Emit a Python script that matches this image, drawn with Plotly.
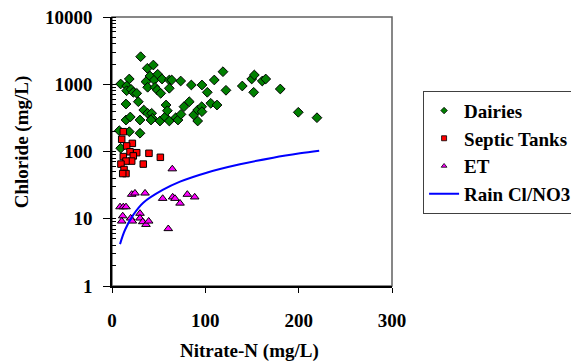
import plotly.graph_objects as go

# Dairies
dairies_x = [30.7, 37.8, 44.3, 9.3, 18.5, 36.4, 40.7, 45.3, 49.0, 53.6, 61.4, 64.0, 73.6,
             38.2, 46.1, 48.5, 52.2, 61.4, 15.7, 15.7, 20.4, 22.8, 26.5, 85.0, 96.4, 102.1,
             109.6, 118.9, 122.1, 139.6, 149.7, 152.5, 151.8, 161.0, 164.7, 180.3, 199.6,
             219.6, 15.0, 28.2, 34.0, 38.2, 42.5, 43.2, 41.8, 15.0, 19.6, 30.0, 51.4, 56.8,
             57.9, 59.3, 61.4, 68.3, 70.7, 73.9, 77.1, 82.8, 87.5, 91.8, 96.1, 96.4, 91.8,
             105.8, 112.5, 7.8, 18.5, 30.0, 9.3]
dairies_y = [2570, 1726, 1932, 1009, 1197, 1091, 1327, 1157, 1406, 1197, 1157, 1157, 1117,
             901, 901, 821, 733, 871, 942, 802, 841, 759, 733, 975, 975, 759,
             1157, 1537, 813, 942, 1197, 1373, 759, 1117, 1197, 850, 383,
             318, 508, 550, 414, 370, 370, 312, 294, 294, 326, 294, 284, 326,
             491, 404, 284, 318, 294, 357, 464, 550, 349, 414, 464, 391, 284,
             521, 491, 204, 197, 187, 112]

# Septic Tanks
septic_x = [12.1, 10.4, 21.8, 15.7, 19.3, 26.5, 22.8, 12.1, 39.6, 51.8, 21.1, 15.0, 9.6,
            33.5, 12.9, 15.0, 11.5]
septic_y = [197, 152, 132, 121, 99, 96, 86, 84, 94, 82, 72, 72, 65, 65, 54, 47, 47]

# ET
et_x = [64.6, 21.1, 24.6, 35.4, 54.3, 65.0, 67.5, 80.7, 88.6, 72.9, 8.6, 12.1, 15.0,
        11.5, 10.4, 20.0, 21.8, 30.0, 30.0, 32.9, 36.4, 39.3, 60.3]
et_y = [55, 23, 24, 24, 20, 21, 20, 23, 21, 17, 15, 15, 15,
        11, 9.2, 10.2, 9.2, 12, 10.2, 9.0, 8.2, 9.2, 7.1]

# Rain Cl/NO3 line
rain_x = [8.6, 13.9, 22.8, 33.5, 54.3, 72.9, 101.4, 137.1, 172.8, 201.4, 222.0]
rain_y = [4.2, 6.8, 11.4, 17.3, 26.8, 35.6, 48.4, 64.5, 80.9, 94.0, 103.0]

x_ticks = [0, 100, 200, 300]
y_ticks = [1, 10, 100, 1000, 10000]

FONT = "Liberation Serif"
FS = 19

fig = go.Figure()
mk_line = dict(color="black", width=1)
fig.add_trace(go.Scatter(x=dairies_x, y=dairies_y, mode="markers", name="Dairies",
                         showlegend=False,
                         marker=dict(symbol="diamond", size=7.5, color="#008000", line=mk_line)))
fig.add_trace(go.Scatter(x=septic_x, y=septic_y, mode="markers", name="Septic Tanks",
                         showlegend=False,
                         marker=dict(symbol="square", size=6.5, color="#ff0000", line=mk_line)))
fig.add_trace(go.Scatter(x=et_x, y=et_y, mode="markers", name="ET",
                         showlegend=False,
                         marker=dict(symbol="triangle-up", size=7.5, color="#ff00ff", line=mk_line)))
fig.add_trace(go.Scatter(x=rain_x, y=rain_y, mode="lines", name="Rain Cl/NO3",
                         showlegend=False,
                         line=dict(color="#0000ff", width=2, shape="spline")))

# legend entries with small symbols, as in the reference legend
leg = [("Dairies", "diamond", "#008000", 5), ("Septic Tanks", "square", "#ff0000", 5),
       ("ET", "triangle-up", "#ff00ff", 5)]
for i, (nm, sym, col, sz) in enumerate(leg):
    fig.add_trace(go.Scatter(x=[None], y=[None], mode="markers", name="<b>%s</b>" % nm,
                             legendgroup=str(i),
                             marker=dict(symbol=sym, size=sz, color=col,
                                         line=dict(color="black", width=0.8))))
fig.add_trace(go.Scatter(x=[None], y=[None], mode="lines", name="<b>Rain Cl/NO3</b>",
                         legendgroup="3", line=dict(color="#0000ff", width=2)))

# plot-area frame (top/right)
fig.add_shape(type="rect", xref="paper", yref="paper", x0=0, y0=0, x1=1, y1=1,
              line=dict(color="#606060", width=1.5), layer="below")

# axis titles
fig.add_annotation(xref="paper", yref="paper", x=0.491, y=-0.2416, xanchor="center",
                   yanchor="middle", showarrow=False, text="<b>Nitrate-N (mg/L)</b>",
                   font=dict(family=FONT, size=FS, color="black"))
fig.add_annotation(xref="paper", yref="paper", x=-0.321, y=0.535, xanchor="center",
                   yanchor="middle", showarrow=False, textangle=-90,
                   text="<b>Chloride (mg/L)</b>",
                   font=dict(family=FONT, size=FS, color="black"))

fig.update_layout(
    width=579, height=362,
    margin=dict(l=104, r=195, t=9, b=84, autoexpand=False),
    paper_bgcolor="white", plot_bgcolor="white",
    font=dict(family=FONT, size=FS, color="black"),
    showlegend=True,
    legend=dict(x=1.111, y=0.726, xanchor="left", yanchor="top",
                bordercolor="#404040", borderwidth=1, bgcolor="white",
                font=dict(family=FONT, size=FS, color="black"),
                traceorder="grouped", tracegroupgap=0, itemsizing="trace"),
    xaxis=dict(range=[0, 300], tickvals=x_ticks, ticktext=["<b>%d</b>" % v for v in x_ticks],
               showgrid=False, zeroline=False, showline=True, linecolor="black", linewidth=1.5,
               ticks="outside", ticklen=5, tickcolor="black", tickwidth=1,
               ticklabelstandoff=11, automargin=False, ticklabeloverflow="allow",
               tickfont=dict(family=FONT, size=FS, color="black")),
    yaxis=dict(type="log", range=[0, 4], tickvals=y_ticks, ticktext=["<b>%d</b>" % v for v in y_ticks],
               showgrid=False, zeroline=False, showline=True, linecolor="black", linewidth=1.5,
               ticks="outside", ticklen=7, tickcolor="black", tickwidth=1,
               ticklabelstandoff=7, automargin=False, ticklabeloverflow="allow",
               minor=dict(ticks="inside", ticklen=4, tickcolor="black", dtick="D1", showgrid=False),
               tickfont=dict(family=FONT, size=FS, color="black")),
)

fig.write_html("out.html")
